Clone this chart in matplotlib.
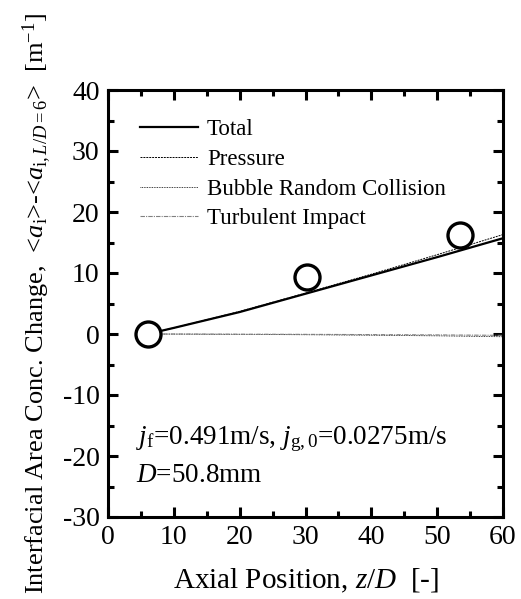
import matplotlib
matplotlib.use('Agg')
import matplotlib.pyplot as plt
from matplotlib.ticker import MultipleLocator

plt.rcParams['font.family'] = ['Liberation Serif', 'DejaVu Serif']
plt.rcParams['mathtext.fontset'] = 'custom'
plt.rcParams['mathtext.rm'] = 'Liberation Serif'
plt.rcParams['mathtext.it'] = 'Liberation Serif:italic'
plt.rcParams['axes.unicode_minus'] = False

# datos medidos
z_exp = [6, 30.3, 53.5]
a_exp = [0, 9.3, 16.3]

# curvas del modelo
z_mod = [6, 10, 20, 30, 40, 50, 60]
total = [0, 1.0, 3.6, 6.6, 9.6, 12.6, 15.7]
pressure = [0, 1.0, 3.7, 6.7, 9.8, 13.0, 16.3]
random_col = [0, -0.02, -0.06, -0.12, -0.2, -0.3, -0.45]
turb_imp = [0, 0, -0.03, -0.06, -0.1, -0.15, -0.22]

fig = plt.figure(figsize=(5.21, 5.99), dpi=100)
ax = fig.add_axes([108/521, 1 - 517/599, 395/521, 427/599])

ax.plot(z_mod, total, color='black', lw=1.6, label='Total')
ax.plot(z_mod, pressure, color='black', lw=0.7, ls=(0, (2, 1)), label='Pressure')
ax.plot(z_mod, random_col, color='black', lw=0.6, ls=(0, (1, 1)), label='Bubble Random Collision')
ax.plot(z_mod, turb_imp, color='gray', lw=0.8, ls=(0, (4, 1, 1, 1)), label='Turbulent Impact')
ax.plot(z_exp, a_exp, 'o', ms=18, mfc='white', mec='black', mew=2.4, clip_on=False, zorder=5)

ax.set_xlim(0, 60)
ax.set_ylim(-30, 40)
ax.xaxis.set_major_locator(MultipleLocator(10))
ax.xaxis.set_minor_locator(MultipleLocator(5))
ax.yaxis.set_major_locator(MultipleLocator(10))
ax.yaxis.set_minor_locator(MultipleLocator(5))
ax.tick_params(which='both', direction='in', top=True, right=True, width=2.2, labelsize=20)
ax.tick_params(which='major', length=7, pad=6)
ax.tick_params(which='minor', length=4)
for s in ax.spines.values():
    s.set_linewidth(2.2)

ax.set_xlabel('Axial Position, $z/D$  [-]', fontsize=21, labelpad=12)
ax.set_ylabel(r'Interfacial Area Conc. Change,  <$a_{\rm i}$>-<$a_{{\rm i},L/D=6}$>  [m$^{-1}$]',
              fontsize=19, labelpad=6)

leg = ax.legend(loc='upper left', bbox_to_anchor=(0.03, 0.98), frameon=False, fontsize=16.5,
                handlelength=2.5, handletextpad=0.4, labelspacing=0.38)

ax.text(0.07, 0.17, r'$j_{\rm f}$=0.491m/s, $j_{\rm g,0}$=0.0275m/s', transform=ax.transAxes, fontsize=19.5)
ax.text(0.07, 0.082, r'$D$=50.8mm', transform=ax.transAxes, fontsize=19.5)

fig.savefig('out.png', dpi=100)
